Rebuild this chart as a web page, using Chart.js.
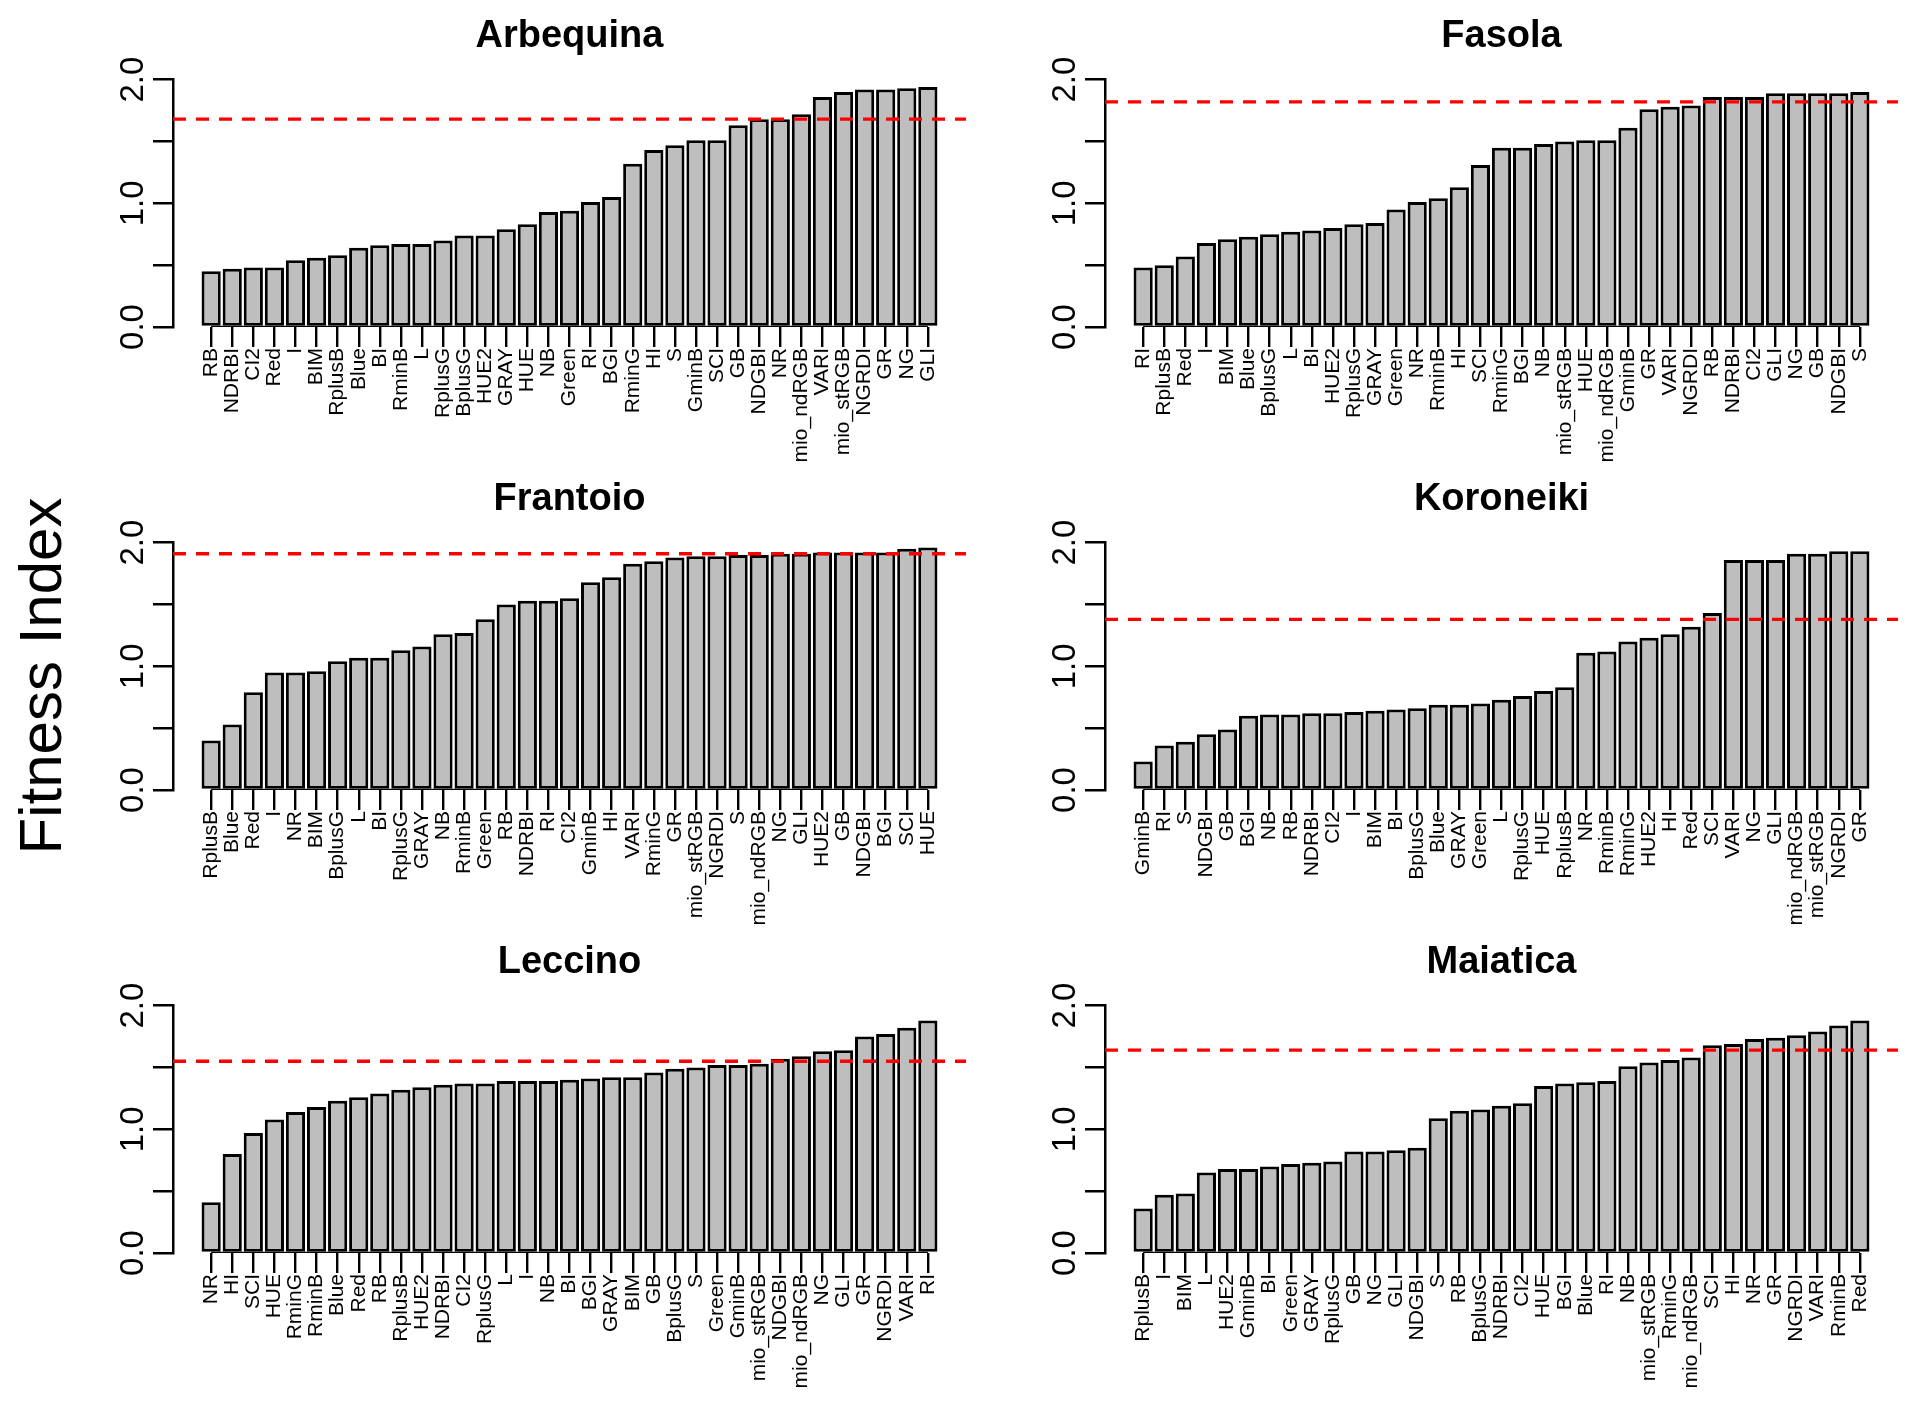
<!DOCTYPE html>
<html>
<head>
<meta charset="utf-8">
<title>Fitness Index by cultivar</title>
<script src="https://cdn.jsdelivr.net/npm/chart.js@4.4.1/dist/chart.umd.min.js"></script>
<style>
    html, body { margin: 0; padding: 0; background: #fff; overflow: hidden; }
    body { position: relative; width: 1914px; height: 1405px; font-family: 'Liberation Sans', Arial, sans-serif; }
    canvas { position: absolute; }
    #ylab {
        position: absolute; left: 40px; top: 676px;
        transform: translate(-50%, -50%) rotate(-90deg);
        font-size: 60px; color: #000; white-space: nowrap;
    }
</style>
</head>
<body>
<div id="ylab">Fitness Index</div>
<canvas id="arbequina" width="901" height="466" style="left:73px;top:1px"></canvas>
<canvas id="fasola" width="901" height="466" style="left:1005px;top:1px"></canvas>
<canvas id="frantoio" width="901" height="466" style="left:73px;top:464px"></canvas>
<canvas id="koroneiki" width="901" height="466" style="left:1005px;top:464px"></canvas>
<canvas id="leccino" width="901" height="466" style="left:73px;top:927px"></canvas>
<canvas id="maiatica" width="901" height="466" style="left:1005px;top:927px"></canvas>
<script>
// y axis
const yTicks = [0, 0.5, 1, 1.5, 2];
const yTickLabels = ['0.0', '', '1.0', '', '2.0'];

// Arbequina
const arbequinaLabels = ['RB', 'NDRBI', 'CI2', 'Red', 'I', 'BIM', 'RplusB', 'Blue', 'BI', 'RminB', 'L', 'RplusG', 'BplusG', 'HUE2', 'GRAY', 'HUE', 'NB', 'Green', 'RI', 'BGI', 'RminG', 'HI', 'S', 'GminB', 'SCI', 'GB', 'NDGBI', 'NR', 'mio_ndRGB', 'VARI', 'mio_stRGB', 'NGRDI', 'GR', 'NG', 'GLI'];
const arbequinaValues = [0.45, 0.47, 0.48, 0.48, 0.54, 0.56, 0.58, 0.64, 0.66, 0.67, 0.67, 0.70, 0.74, 0.74, 0.79, 0.83, 0.93, 0.94, 1.01, 1.05, 1.32, 1.43, 1.47, 1.51, 1.51, 1.63, 1.68, 1.68, 1.72, 1.86, 1.90, 1.92, 1.92, 1.93, 1.94];
const arbequinaThreshold = 1.68;

// Fasola
const fasolaLabels = ['RI', 'RplusB', 'Red', 'I', 'BIM', 'Blue', 'BplusG', 'L', 'BI', 'HUE2', 'RplusG', 'GRAY', 'Green', 'NR', 'RminB', 'HI', 'SCI', 'RminG', 'BGI', 'NB', 'mio_stRGB', 'HUE', 'mio_ndRGB', 'GminB', 'GR', 'VARI', 'NGRDI', 'RB', 'NDRBI', 'CI2', 'GLI', 'NG', 'GB', 'NDGBI', 'S'];
const fasolaValues = [0.48, 0.50, 0.57, 0.68, 0.71, 0.73, 0.75, 0.77, 0.78, 0.80, 0.83, 0.84, 0.95, 1.01, 1.04, 1.13, 1.31, 1.45, 1.45, 1.48, 1.50, 1.51, 1.51, 1.61, 1.76, 1.78, 1.79, 1.86, 1.86, 1.86, 1.89, 1.89, 1.89, 1.89, 1.90];
const fasolaThreshold = 1.82;

// Frantoio
const frantoioLabels = ['RplusB', 'Blue', 'Red', 'I', 'NR', 'BIM', 'BplusG', 'L', 'BI', 'RplusG', 'GRAY', 'NB', 'RminB', 'Green', 'RB', 'NDRBI', 'RI', 'CI2', 'GminB', 'HI', 'VARI', 'RminG', 'GR', 'mio_stRGB', 'NGRDI', 'S', 'mio_ndRGB', 'NG', 'GLI', 'HUE2', 'GB', 'NDGBI', 'BGI', 'SCI', 'HUE'];
const frantoioValues = [0.40, 0.53, 0.79, 0.95, 0.95, 0.96, 1.04, 1.07, 1.07, 1.13, 1.16, 1.26, 1.27, 1.38, 1.50, 1.53, 1.53, 1.55, 1.68, 1.72, 1.83, 1.85, 1.88, 1.89, 1.89, 1.90, 1.90, 1.91, 1.91, 1.92, 1.92, 1.92, 1.92, 1.95, 1.96];
const frantoioThreshold = 1.91;

// Koroneiki
const koroneikiLabels = ['GminB', 'RI', 'S', 'NDGBI', 'GB', 'BGI', 'NB', 'RB', 'NDRBI', 'CI2', 'I', 'BIM', 'BI', 'BplusG', 'Blue', 'GRAY', 'Green', 'L', 'RplusG', 'HUE', 'RplusB', 'NR', 'RminB', 'RminG', 'HUE2', 'HI', 'Red', 'SCI', 'VARI', 'NG', 'GLI', 'mio_ndRGB', 'mio_stRGB', 'NGRDI', 'GR'];
const koroneikiValues = [0.23, 0.36, 0.39, 0.45, 0.49, 0.60, 0.61, 0.61, 0.62, 0.62, 0.63, 0.64, 0.65, 0.66, 0.69, 0.69, 0.70, 0.73, 0.76, 0.80, 0.83, 1.11, 1.12, 1.20, 1.23, 1.26, 1.32, 1.43, 1.86, 1.86, 1.86, 1.91, 1.91, 1.93, 1.93];
const koroneikiThreshold = 1.38;

// Leccino
const leccinoLabels = ['NR', 'HI', 'SCI', 'HUE', 'RminG', 'RminB', 'Blue', 'Red', 'RB', 'RplusB', 'HUE2', 'NDRBI', 'CI2', 'RplusG', 'L', 'I', 'NB', 'BI', 'BGI', 'GRAY', 'BIM', 'GB', 'BplusG', 'S', 'Green', 'GminB', 'mio_stRGB', 'NDGBI', 'mio_ndRGB', 'NG', 'GLI', 'GR', 'NGRDI', 'VARI', 'RI'];
const leccinoValues = [0.41, 0.80, 0.97, 1.08, 1.14, 1.18, 1.23, 1.26, 1.29, 1.32, 1.34, 1.36, 1.37, 1.37, 1.39, 1.39, 1.39, 1.40, 1.41, 1.42, 1.42, 1.46, 1.49, 1.50, 1.52, 1.52, 1.53, 1.57, 1.59, 1.63, 1.64, 1.75, 1.77, 1.82, 1.88];
const leccinoThreshold = 1.55;

// Maiatica
const maiaticaLabels = ['RplusB', 'I', 'BIM', 'L', 'HUE2', 'GminB', 'BI', 'Green', 'GRAY', 'RplusG', 'GB', 'NG', 'GLI', 'NDGBI', 'S', 'RB', 'BplusG', 'NDRBI', 'CI2', 'HUE', 'BGI', 'Blue', 'RI', 'NB', 'mio_stRGB', 'RminG', 'mio_ndRGB', 'SCI', 'HI', 'NR', 'GR', 'NGRDI', 'VARI', 'RminB', 'Red'];
const maiaticaValues = [0.36, 0.47, 0.48, 0.65, 0.68, 0.68, 0.70, 0.72, 0.73, 0.74, 0.82, 0.82, 0.83, 0.85, 1.09, 1.15, 1.16, 1.19, 1.21, 1.35, 1.37, 1.38, 1.39, 1.51, 1.54, 1.56, 1.58, 1.68, 1.69, 1.73, 1.74, 1.76, 1.79, 1.84, 1.88];
const maiaticaThreshold = 1.64;

const FONT = "'Liberation Sans', Arial, sans-serif";

const panels = [
    { id: 'arbequina', title: 'Arbequina', labels: arbequinaLabels, values: arbequinaValues, threshold: arbequinaThreshold },
    { id: 'fasola', title: 'Fasola', labels: fasolaLabels, values: fasolaValues, threshold: fasolaThreshold },
    { id: 'frantoio', title: 'Frantoio', labels: frantoioLabels, values: frantoioValues, threshold: frantoioThreshold },
    { id: 'koroneiki', title: 'Koroneiki', labels: koroneikiLabels, values: koroneikiValues, threshold: koroneikiThreshold },
    { id: 'leccino', title: 'Leccino', labels: leccinoLabels, values: leccinoValues, threshold: leccinoThreshold },
    { id: 'maiatica', title: 'Maiatica', labels: maiaticaLabels, values: maiaticaValues, threshold: maiaticaThreshold }
];

function makePanel(p) {
    const ctx = document.getElementById(p.id);
    if (!ctx) return;

    // plot region runs a little past the outer bars, like barplot does
    const n = p.labels.length;
    const xMin = 1 - 1.81;
    const xMax = n + 1.81;

    new Chart(ctx, {
        type: 'bar',
        data: {
            datasets: [
                {
                    type: 'line',
                    data: [{ x: xMin, y: p.threshold }, { x: xMax, y: p.threshold }],
                    borderColor: '#ff0000',
                    borderWidth: 3.3,
                    borderDash: [13, 10],
                    pointRadius: 0,
                    order: 0
                },
                {
                    type: 'line',
                    data: [{ x: 1, y: 0 }, { x: n, y: 0 }],
                    borderColor: '#000',
                    borderWidth: 2.5,
                    pointRadius: 0,
                    order: 0
                },
                {
                    type: 'bar',
                    data: p.values.map((v, i) => ({ x: i + 1, y: v })),
                    backgroundColor: '#bebebe',
                    borderColor: '#000',
                    borderWidth: 3,
                    borderSkipped: false,
                    barPercentage: 0.91,
                    categoryPercentage: 1,
                    order: 1
                }
            ]
        },
        options: {
            responsive: false,
            animation: false,
            layout: { padding: { top: 0, right: 8, bottom: 0, left: 0 } },
            plugins: {
                legend: { display: false },
                tooltip: { enabled: false },
                title: {
                    display: true,
                    text: p.title,
                    fullSize: false,
                    color: '#000',
                    font: { family: FONT, size: 38, weight: 'bold' },
                    padding: { top: 13, bottom: 20 }
                }
            },
            scales: {
                x: {
                    type: 'linear',
                    min: xMin,
                    max: xMax,
                    offset: false,
                    afterBuildTicks(axis) {
                        axis.ticks = p.labels.map((_, i) => ({ value: i + 1 }));
                    },
                    afterFit(axis) { axis.height = 140; },
                    border: { display: false },
                    grid: {
                        offset: false,
                        drawOnChartArea: false,
                        drawTicks: true,
                        tickLength: 20,
                        color: '#000',
                        lineWidth: 2.4
                    },
                    ticks: {
                        autoSkip: false,
                        minRotation: 90,
                        maxRotation: 90,
                        padding: 1,
                        color: '#000',
                        font: { family: FONT, size: 21 },
                        callback: (v, i) => p.labels[i]
                    }
                },
                y: {
                    min: 0,
                    max: 2,
                    afterBuildTicks(axis) {
                        axis.ticks = yTicks.map(v => ({ value: v }));
                    },
                    afterFit(axis) { axis.width = 100; },
                    border: { display: true, color: '#000', width: 2.5 },
                    grid: {
                        drawOnChartArea: false,
                        tickLength: 20,
                        color: '#000',
                        lineWidth: 2.5
                    },
                    ticks: {
                        autoSkip: false,
                        minRotation: 90,
                        crossAlign: 'center',
                        padding: -4,
                        color: '#000',
                        font: { family: FONT, size: 33 },
                        callback: (v, i) => yTickLabels[i]
                    }
                }
            }
        }
    });
}

panels.forEach(makePanel);
</script>
</body>
</html>
